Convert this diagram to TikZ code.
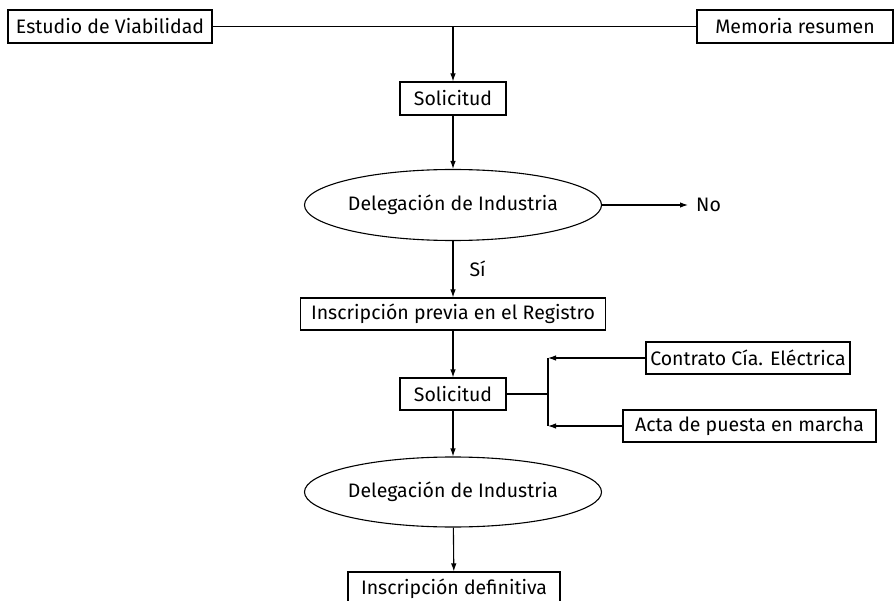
\documentclass[tikz,border=0pt]{standalone}
\usepackage{fontspec}
\setmainfont{Fira Sans}
\usetikzlibrary{arrows.meta,shapes.geometric}
\begin{document}
\begin{tikzpicture}[x=1pt,y=-1pt,
  every node/.style={font=\fontsize{19.5}{22}\selectfont, inner sep=0pt},
  box/.style={draw, line width=1.1pt, rectangle, minimum height=33pt},
  oval/.style={draw, line width=1.1pt, ellipse, minimum width=293pt, minimum height=71pt},
  conn/.style={line width=1.1pt},
  arr/.style={line width=1.1pt, -{Latex[length=8pt,width=5.5pt]}}]
\useasboundingbox (0,0) rectangle (896,601);
\node[box, minimum width=204pt] (estudio) at (110,26.5) {Estudio de Viabilidad};
\node[box, minimum width=196pt] (memoria) at (795,26.5) {Memoria resumen};
\node[box, minimum width=106pt] (sol1) at (453,98.5) {Solicitud};
\node[oval] (del1) at (453,205) {Delegación de Industria};
\node[anchor=west] (no) at (696,205) {No};
\node[box, minimum width=305pt, minimum height=32pt] (insc1) at (453,314) {Inscripción previa en el Registro};
\node[box, minimum width=106pt, minimum height=32pt] (sol2) at (453,394) {Solicitud};
\node[box, minimum width=204pt, minimum height=32pt] (contrato) at (748,358) {Contrato Cía. Eléctrica};
\node[box, minimum width=253pt, minimum height=32pt] (acta) at (749.5,426) {Acta de puesta en marcha};
\node[oval, minimum height=70pt] (del2) at (453,492) {Delegación de Industria};
\node[box, minimum width=212pt] (insc2) at (454,588.5) {Inscripción definitiva};
\coordinate (top) at (453,26.5);
\coordinate (j) at (548,394);
\coordinate (jt) at (548,358);
\coordinate (jb) at (548,426);
\draw[conn] (estudio) -- (memoria);
\draw[arr] (top) -- (sol1);
\draw[arr] (sol1) -- (del1);
\draw[arr] (del1.east) -- ([xshift=-8pt]no.west);
\draw[arr] (del1) -- node[right, xshift=16pt] {Sí} (insc1);
\draw[arr] (insc1) -- (sol2);
\draw[conn] (sol2) -- (j);
\draw[conn] (jt) -- (jb);
\draw[arr] (contrato) -- (jt);
\draw[arr] (acta) -- (jb);
\draw[arr] (sol2) -- (del2);
\draw[arr] (del2) -- (insc2);
\end{tikzpicture}
\end{document}
